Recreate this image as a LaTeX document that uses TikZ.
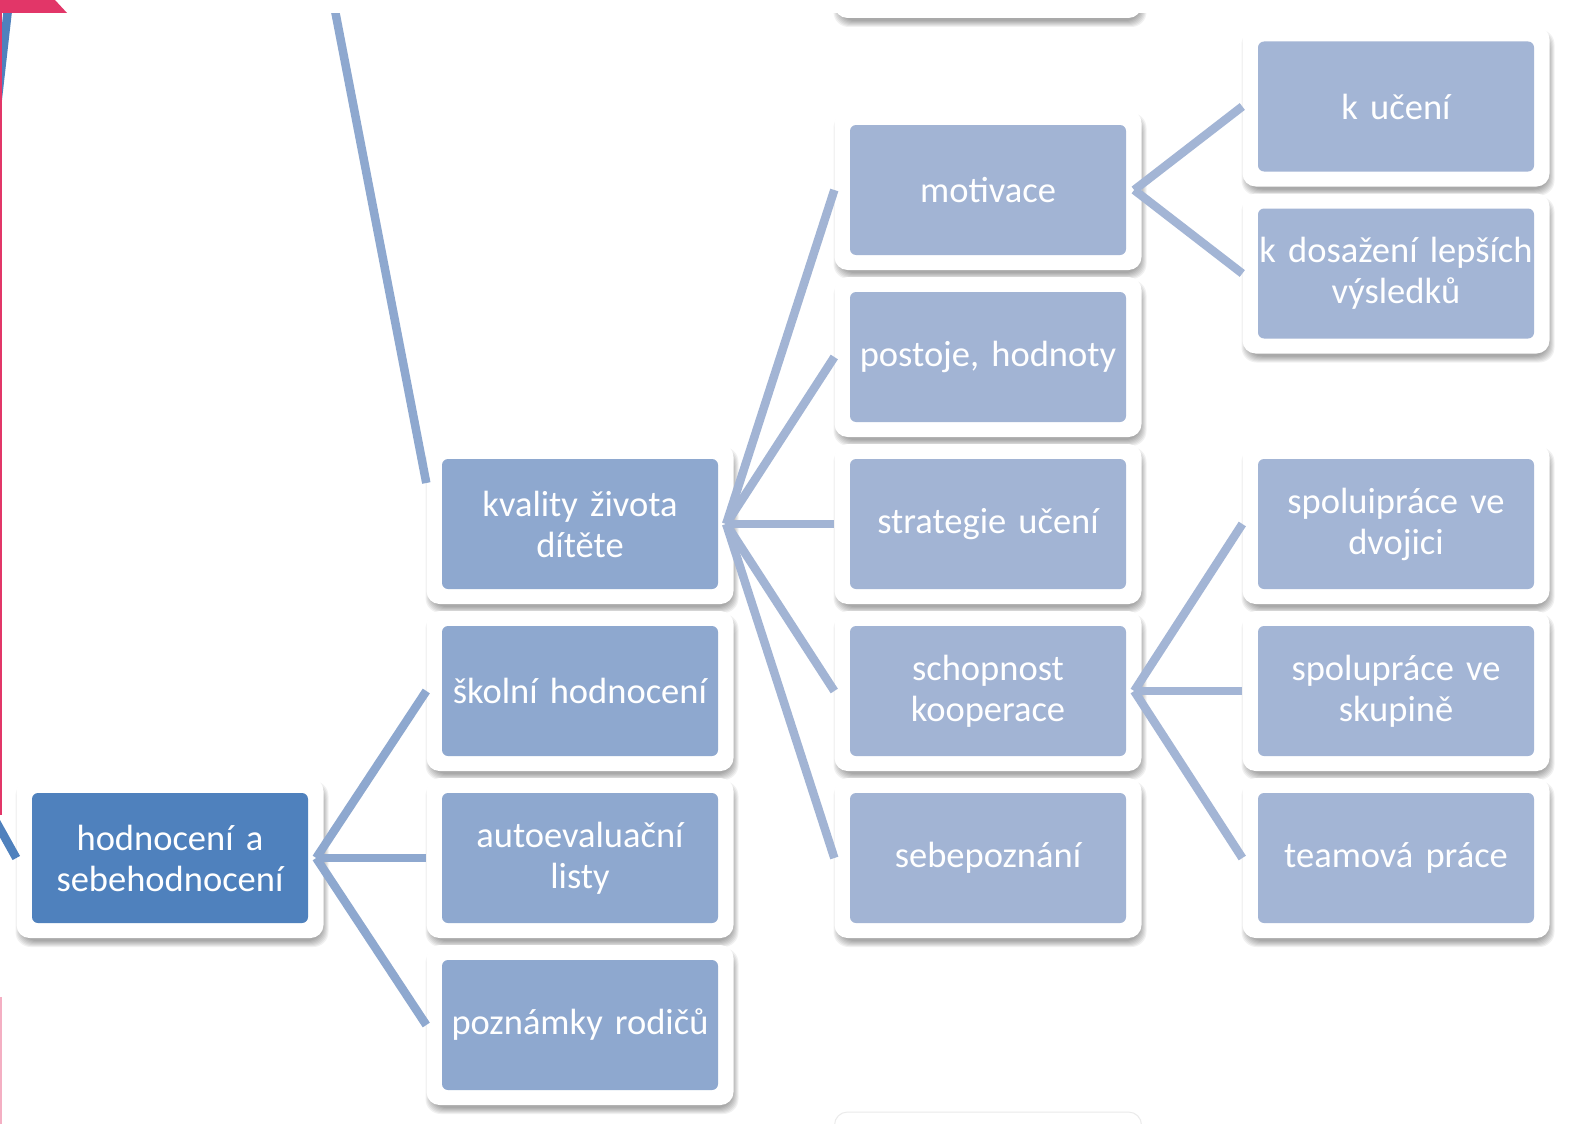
\documentclass[tikz,border=0pt]{standalone}
\usepackage{fontspec}
\setmainfont{Carlito}
\usetikzlibrary{calc}
\pgfdeclarelayer{bg}
\pgfdeclarelayer{shade}
\pgfdeclarelayer{frames}
\pgfdeclarelayer{links}
\pgfsetlayers{bg,shade,frames,links,main}
\definecolor{cA}{RGB}{79,129,189}
\definecolor{cB}{RGB}{142,168,207}
\definecolor{cC}{RGB}{162,180,212}
\definecolor{cD}{RGB}{163,181,213}
\definecolor{pinkc}{RGB}{226,54,104}
\tikzset{
  frm/.style={rounded corners=13pt, fill=white, minimum width=307pt, minimum height=160pt, inner sep=0pt},
  shd/.style={rounded corners=15pt, fill=black, fill opacity=0.055, inner sep=0pt},
  inbox/.style={rounded corners=6pt, minimum width=276pt, minimum height=130pt, text width=276pt,
    inner sep=0pt, align=center, text=white, font=\fontsize{36.5}{41}\selectfont},
  lvA/.style={inbox, fill=cA},
  lvB/.style={inbox, fill=cB},
  lvC/.style={inbox, fill=cC},
  lvD/.style={inbox, fill=cD},
  link/.style={line width=8.5pt},
  faintbox/.style={rounded corners=13pt, fill=white, draw=black!8, line width=1pt, minimum width=307pt, minimum height=160pt},
}
\newcommand\mmbox[5]{%
  \begin{pgfonlayer}{shade}%
  \foreach \i in {0,...,6}{\node[shd, minimum width=307pt+2*\i pt-6pt, minimum height=160pt+2*\i pt-6pt] at ($(#2,#3)+(2,6)$) {};}%
  \end{pgfonlayer}%
  \begin{pgfonlayer}{frames}\node[frm] (#1F) at (#2,#3) {};\end{pgfonlayer}%
  \node[#4] (#1) at (#2,#3) {#5};}
\begin{document}
\begin{tikzpicture}[x=1pt,y=-1pt]
\useasboundingbox (0,0) rectangle (1575,1124);
\begin{pgfonlayer}{bg}
\fill[white] (0,0) rectangle (1575,1124);
\end{pgfonlayer}
% column 1
\mmbox{hod}{170}{858}{lvA}{hodnocení a\\sebehodnocení}
% column 2
\mmbox{kval}{580}{524}{lvB}{kvality života\\dítěte}
\mmbox{skol}{580}{691}{lvB}{školní hodnocení}
\mmbox{auto}{580}{858}{lvB}{autoevaluační\\listy}
\mmbox{pozn}{580}{1025}{lvB}{poznámky rodičů}
% column 3
\mmbox{topb}{988}{-62}{lvC}{}
\mmbox{mot}{988}{190}{lvC}{motivace}
\mmbox{post}{988}{357}{lvC}{postoje, hodnoty}
\mmbox{strat}{988}{524}{lvC}{strategie učení}
\mmbox{schop}{988}{691}{lvC}{schopnost\\kooperace}
\mmbox{sebe}{988}{858}{lvC}{sebepoznání}
\begin{pgfonlayer}{frames}
\node[faintbox] (botb) at (988,1192) {};
\end{pgfonlayer}
% column 4
\mmbox{kuc}{1396}{106.5}{lvD}{k učení}
\mmbox{kdos}{1396}{273.5}{lvD}{k dosažení lepších\\výsledků}
\mmbox{dvoj}{1396}{524}{lvD}{spoluipráce ve\\dvojici}
\mmbox{skup}{1396}{691}{lvD}{spolupráce ve\\skupině}
\mmbox{team}{1396}{858}{lvD}{teamová práce}
% hubs
\coordinate (hodH) at ($(hod.east)+(8,0)$);
\coordinate (kvalH) at ($(kval.east)+(8,0)$);
\coordinate (motH) at ($(mot.east)+(8,0)$);
\coordinate (schopH) at ($(schop.east)+(8,0)$);
\coordinate (topL) at (333,0);
\coordinate (kvalIn) at ($(kvalF.west)+(0,-41)$);
\coordinate (leftA) at (9,0);
\coordinate (leftB) at (-5,124);
\coordinate (leftC) at (-40,757);
\begin{pgfonlayer}{links}
\draw[link,cA] (leftA) -- (leftB);
\draw[link,cA] (leftC) -- (hodF.west);
\draw[link,cB] (topL) -- (kvalIn);
\foreach \c in {skol,auto,pozn} \draw[link,cB] (hodH) -- (\c F.west);
\foreach \c in {mot,post,strat,schop,sebe} \draw[link,cC] (kvalH) -- (\c F.west);
\foreach \c in {kuc,kdos} \draw[link,cD] (motH) -- (\c F.west);
\foreach \c in {dvoj,skup,team} \draw[link,cD] (schopH) -- (\c F.west);
\end{pgfonlayer}
% top strip and page marks
\fill[white] (0,0) rectangle (1575,13);
\fill[pinkc] (0,0) -- (55,0) -- (67,13) -- (0,13) -- cycle;
\fill[pinkc] (0,0) rectangle (1.6,815);
\fill[pinkc!40] (0,997) rectangle (1.5,1124);
\end{tikzpicture}
\end{document}
